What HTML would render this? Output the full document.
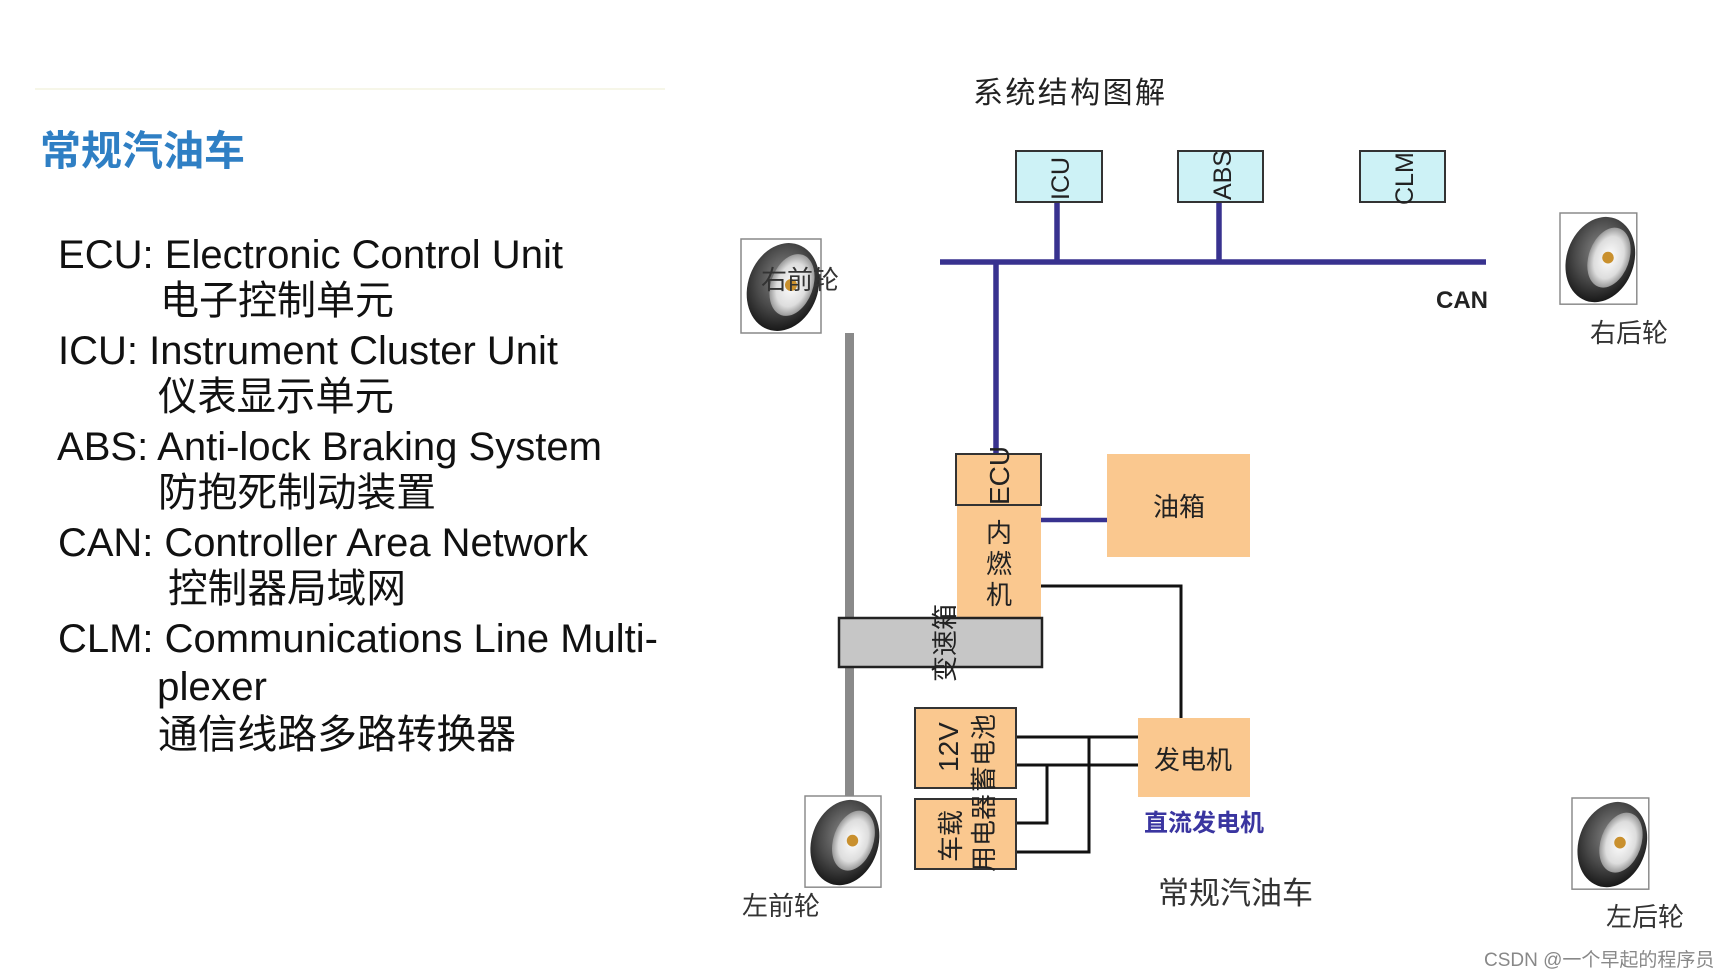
<!DOCTYPE html>
<html><head><meta charset="utf-8"><style>
html,body{margin:0;padding:0;background:#fff;}
svg{display:block;}
text{font-family:"Liberation Sans","Noto Sans CJK SC",sans-serif;}
</style></head><body>
<svg width="1730" height="978" viewBox="0 0 1730 978" xmlns="http://www.w3.org/2000/svg">
<defs>
<radialGradient id="tire" cx="0.45" cy="0.4" r="0.6">
<stop offset="0" stop-color="#888"/><stop offset="0.6" stop-color="#4a4a4a"/><stop offset="1" stop-color="#1a1a1a"/>
</radialGradient>
<radialGradient id="hub" cx="0.5" cy="0.5" r="0.5">
<stop offset="0" stop-color="#fff"/><stop offset="0.7" stop-color="#ddd"/><stop offset="1" stop-color="#999"/>
</radialGradient>
<g id="wheel">
<rect x="0" y="0" width="80" height="94" fill="#fff" stroke="#888" stroke-width="1.5"/>
<ellipse cx="42" cy="48" rx="35" ry="45" transform="rotate(20 42 48)" fill="url(#tire)"/>
<ellipse cx="51" cy="46" rx="21" ry="32" transform="rotate(20 51 46)" fill="url(#hub)"/>
<circle cx="50" cy="46" r="6" fill="#c9902e"/>
</g>
</defs>
<line x1="35" y1="89" x2="665" y2="89" stroke="#f6f6e8" stroke-width="2"/>
<text x="40" y="165" font-size="41" font-weight="bold" fill="#2f7fc4" textLength="205">常规汽油车</text>
<g font-size="40" fill="#111">
<text x="58" y="268" textLength="505" lengthAdjust="spacingAndGlyphs">ECU: Electronic Control Unit</text>
<text x="160" y="314" textLength="234" lengthAdjust="spacingAndGlyphs">电子控制单元</text>
<text x="58" y="364" textLength="500" lengthAdjust="spacingAndGlyphs">ICU: Instrument Cluster Unit</text>
<text x="158" y="410" textLength="236" lengthAdjust="spacingAndGlyphs">仪表显示单元</text>
<text x="57" y="460" textLength="545" lengthAdjust="spacingAndGlyphs">ABS: Anti-lock Braking System</text>
<text x="158" y="506" textLength="278" lengthAdjust="spacingAndGlyphs">防抱死制动装置</text>
<text x="58" y="556" textLength="530" lengthAdjust="spacingAndGlyphs">CAN: Controller Area Network</text>
<text x="168" y="602" textLength="238" lengthAdjust="spacingAndGlyphs">控制器局域网</text>
<text x="58" y="652" textLength="600" lengthAdjust="spacingAndGlyphs">CLM: Communications Line Multi-</text>
<text x="157" y="700" textLength="110" lengthAdjust="spacingAndGlyphs">plexer</text>
<text x="158" y="748" textLength="358" lengthAdjust="spacingAndGlyphs">通信线路多路转换器</text>
</g>
<text x="973" y="103" font-size="30" fill="#222" textLength="192">系统结构图解</text>
<g stroke="#38328f" stroke-width="5.5" fill="none">
<line x1="940" y1="262" x2="1486" y2="262"/>
<line x1="1057" y1="202" x2="1057" y2="262"/>
<line x1="1219" y1="202" x2="1219" y2="262"/>
<line x1="996" y1="262" x2="996" y2="455"/>
<line x1="1041" y1="520" x2="1110" y2="520" stroke-width="4.5"/>
</g>
<g fill="#cdf2f6" stroke="#333" stroke-width="2">
<rect x="1016" y="151" width="86" height="51"/>
<rect x="1178" y="151" width="85" height="51"/>
<rect x="1360" y="151" width="85" height="51"/>
</g>
<g font-size="25" fill="#222">
<text transform="translate(1069 200) rotate(-90)">ICU</text>
<text transform="translate(1231 200) rotate(-90)">ABS</text>
<text transform="translate(1413 205) rotate(-90)">CLM</text>
</g>
<text x="1436" y="308" font-size="24" font-weight="bold" fill="#222">CAN</text>
<rect x="845" y="333" width="9" height="463" fill="#8a8a8a"/>
<g stroke="#111" stroke-width="3" fill="none">
<polyline points="1037,586 1181,586 1181,718"/>
<line x1="1016" y1="737" x2="1138" y2="737"/>
<line x1="1016" y1="765" x2="1138" y2="765"/>
<polyline points="1089,737 1089,852 1016,852"/>
<polyline points="1047,765 1047,823 1016,823"/>
</g>
<rect x="956" y="454" width="85" height="51" fill="#fac88f" stroke="#333" stroke-width="2"/>
<rect x="957" y="506" width="84" height="113" fill="#fac88f"/>
<rect x="1107" y="454" width="143" height="103" fill="#fac88f"/>
<rect x="1138" y="718" width="112" height="79" fill="#fac88f"/>
<g fill="#fac88f" stroke="#333" stroke-width="2">
<rect x="915" y="708" width="101" height="80"/>
<rect x="915" y="799" width="101" height="70"/>
</g>
<rect x="839" y="618" width="203" height="49" fill="#c6c6c6" stroke="#222" stroke-width="2.5"/>
<g font-size="26" fill="#222">
<text transform="translate(1009 505) rotate(-90)" font-size="28">ECU</text>
<text x="986" y="542">内</text>
<text x="986" y="573">燃</text>
<text x="986" y="604">机</text>
<text x="1153" y="516">油箱</text>
<text x="1154" y="769">发电机</text>
<text transform="translate(954 682) rotate(-90)">变速箱</text>
<text transform="translate(958 772) rotate(-90)" font-size="28">12V</text>
<text transform="translate(993 792) rotate(-90)">蓄电池</text>
<text transform="translate(960 862) rotate(-90)">车载</text>
<text transform="translate(993 872) rotate(-90)">用电器</text>
</g>
<text x="1144" y="831" font-size="24" font-weight="bold" fill="#3a35a0">直流发电机</text>
<text x="1158" y="904" font-size="31" fill="#333">常规汽油车</text>
<use href="#wheel" transform="translate(741 239)"/>
<use href="#wheel" transform="translate(1560 213) scale(0.96 0.97)"/>
<use href="#wheel" transform="translate(805 796) scale(0.95 0.97)"/>
<use href="#wheel" transform="translate(1572 798) scale(0.96 0.97)"/>
<g font-size="26" fill="#333">
<text x="761" y="289">右前轮</text>
<text x="1590" y="342">右后轮</text>
<text x="742" y="915">左前轮</text>
<text x="1606" y="926">左后轮</text>
</g>
<text x="1484" y="966" font-size="19" fill="#888">CSDN @一个早起的程序员</text>
</svg>
</body></html>
